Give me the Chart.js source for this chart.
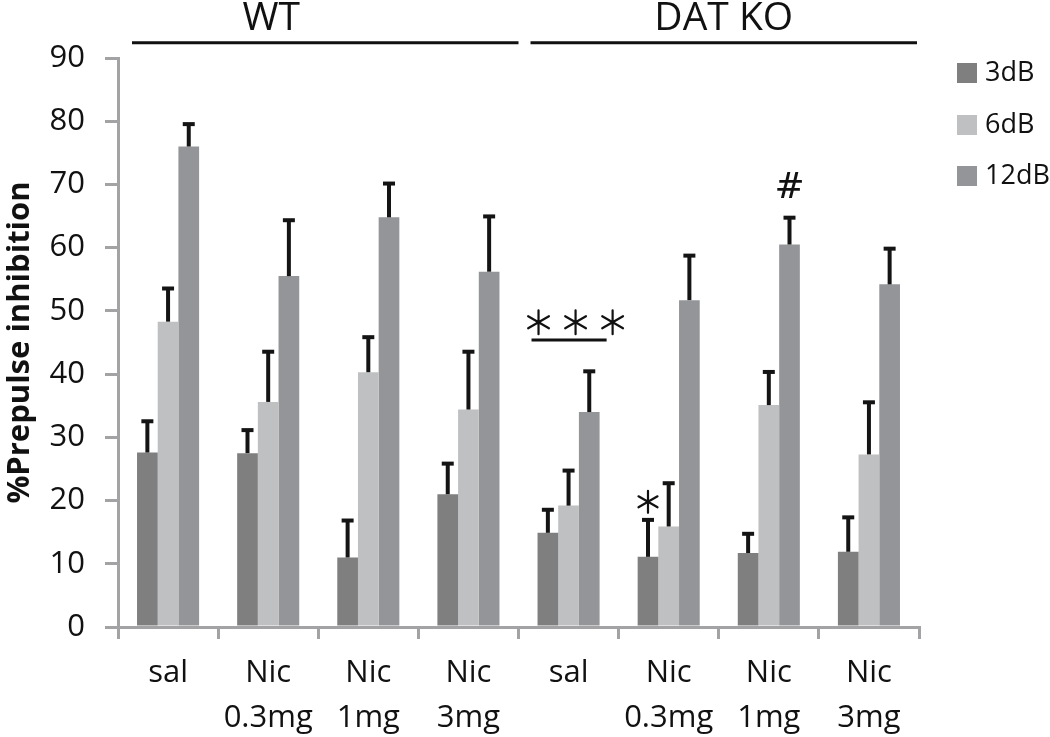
<!DOCTYPE html>
<html>
<head>
<meta charset="utf-8">
<script src="https://cdn.jsdelivr.net/npm/chart.js@4"></script>
<style>
  html, body { margin: 0; padding: 0; background: #fff; }
  #wrap { width: 1050px; height: 737px; position: relative; }
</style>
</head>
<body>
<div id="wrap"><canvas id="myChart"></canvas></div>
<script>
const categories = [['sal'], ['Nic', '0.3mg'], ['Nic', '1mg'], ['Nic', '3mg'],
                    ['sal'], ['Nic', '0.3mg'], ['Nic', '1mg'], ['Nic', '3mg']];
const seriesNames = ['3dB', '6dB', '12dB'];
const pp3dB  = [27.6, 27.5, 11.0, 21.0, 14.9, 11.1, 11.7, 11.9];
const pp6dB  = [48.3, 35.6, 40.3, 34.4, 19.2, 15.9, 35.1, 27.3];
const pp12dB = [76.0, 55.5, 64.8, 56.2, 34.0, 51.7, 60.5, 54.2];
const err3dB  = [5.1, 3.8, 6.0, 5.0, 3.8, 6.0, 3.2, 5.6];
const err6dB  = [5.4, 8.1, 5.7, 9.3, 5.7, 7.0, 5.4, 8.4];
const err12dB = [3.7, 9.0, 5.5, 8.9, 6.6, 7.2, 4.4, 5.8];
const yMin = 0, yMax = 90, yStep = 10;
const groupNames = ['WT', 'DAT KO'];

const colors = ['#7f7f80', '#bfc0c1', '#939598'];
const axisGrey = '#a3a3a5';
const FONT = "'Open Sans', sans-serif";

// thin 6-armed asterisk like the original figure
function drawStar(ctx, cx, cy, r) {
    ctx.save();
    ctx.lineWidth = 2.2;
    ctx.lineCap = 'round';
    ctx.beginPath();
    for (let k = 0; k < 3; k++) {
        const a = Math.PI / 2 + k * Math.PI / 3;
        ctx.moveTo(cx + r * Math.cos(a), cy + r * Math.sin(a));
        ctx.lineTo(cx - r * Math.cos(a), cy - r * Math.sin(a));
    }
    ctx.stroke();
    ctx.restore();
}

// error bars (upper only)
Chart.register({
    id: 'errorBars',
    afterDatasetsDraw: function(chart) {
        const ctx = chart.ctx;
        const yScale = chart.scales.y;
        const errs = [err3dB, err6dB, err12dB];
        ctx.save();
        ctx.strokeStyle = '#141414';
        ctx.lineWidth = 4;
        chart.data.datasets.forEach(function(ds, di) {
            const meta = chart.getDatasetMeta(di);
            meta.data.forEach(function(bar, i) {
                const yTop = yScale.getPixelForValue(ds.data[i] + errs[di][i]);
                ctx.beginPath();
                ctx.moveTo(bar.x, bar.y);
                ctx.lineTo(bar.x, yTop);
                ctx.stroke();
                ctx.beginPath();
                ctx.moveTo(bar.x - 6, yTop + 1);
                ctx.lineTo(bar.x + 6, yTop + 1);
                ctx.stroke();
            });
        });
        ctx.restore();
    }
});

// group lines, significance marks and legend
Chart.register({
    id: 'annotations',
    afterDraw: function(chart) {
        const ctx = chart.ctx;
        const x = chart.scales.x, y = chart.scales.y;
        ctx.save();
        ctx.fillStyle = '#111';
        ctx.strokeStyle = '#111';
        ctx.lineWidth = 3;

        // WT / DAT KO headers
        ctx.font = '39px ' + FONT;
        ctx.textAlign = 'center';
        ctx.textBaseline = 'middle';
        ctx.fillText(groupNames[0], x.getPixelForValue(1.03), 19);
        ctx.fillText(groupNames[1], x.getPixelForValue(5.55), 19);
        const lineY = y.getPixelForValue(92.4);
        ctx.beginPath();
        ctx.moveTo(x.getPixelForValue(-0.36), lineY);
        ctx.lineTo(x.getPixelForValue(3.5), lineY);
        ctx.moveTo(x.getPixelForValue(3.62), lineY);
        ctx.lineTo(x.getPixelForValue(7.48), lineY);
        ctx.stroke();

        // *** over DAT KO sal
        const starY = y.getPixelForValue(48.2);
        [-0.3, 0.07, 0.44].forEach(function(dx) {
            drawStar(ctx, x.getPixelForValue(4 + dx), starY, 12);
        });
        const underY = y.getPixelForValue(45.4);
        ctx.beginPath();
        ctx.moveTo(x.getPixelForValue(4 - 0.37), underY);
        ctx.lineTo(x.getPixelForValue(4 + 0.38), underY);
        ctx.stroke();

        // * over DAT KO Nic 0.3mg 3dB
        const m0 = chart.getDatasetMeta(0).data[5];
        drawStar(ctx, m0.x, y.getPixelForValue(19.8), 11);

        // # over DAT KO Nic 1mg 12dB
        const m2 = chart.getDatasetMeta(2).data[6];
        ctx.font = '36px DejaVu Serif';
        ctx.fillText('#', m2.x, y.getPixelForValue(69.4));

        // legend
        ctx.font = '27px ' + FONT;
        ctx.textAlign = 'left';
        const lx = chart.chartArea.right + 38;
        [73, 125, 176].forEach(function(ly, i) {
            ctx.fillStyle = colors[i];
            ctx.fillRect(lx, ly - 10, 20, 20);
            ctx.fillStyle = '#111';
            ctx.fillText(seriesNames[i], lx + 28, ly);
        });
        ctx.restore();
    }
});

const ctx = document.getElementById('myChart').getContext('2d');
const myChart = new Chart(ctx, {
    type: 'bar',
    data: {
        labels: categories,
        datasets: [
            { label: seriesNames[0], data: pp3dB, backgroundColor: colors[0] },
            { label: seriesNames[1], data: pp6dB, backgroundColor: colors[1] },
            { label: seriesNames[2], data: pp12dB, backgroundColor: colors[2] }
        ]
    },
    options: {
        responsive: true,
        maintainAspectRatio: false,
        animation: false,
        layout: { padding: { top: 58, right: 131, left: 0, bottom: 0 } },
        plugins: {
            legend: { display: false },
            tooltip: { enabled: false }
        },
        datasets: { bar: { barPercentage: 1, categoryPercentage: 0.62 } },
        scales: {
            x: {
                afterFit: function(s) { s.height = 110; },
                border: { color: axisGrey, width: 3 },
                grid: {
                    offset: true,
                    drawOnChartArea: false,
                    drawTicks: true,
                    tickLength: 12,
                    color: axisGrey,
                    lineWidth: 3
                },
                ticks: {
                    font: { size: 31, family: FONT, lineHeight: 1.45 },
                    color: '#111',
                    padding: 12,
                    maxRotation: 0
                }
            },
            y: {
                min: yMin,
                max: yMax,
                afterFit: function(s) { s.width = 118; },
                border: { color: axisGrey, width: 3 },
                grid: {
                    drawOnChartArea: false,
                    drawTicks: true,
                    tickLength: 13,
                    color: axisGrey,
                    lineWidth: 3
                },
                ticks: {
                    stepSize: yStep,
                    font: { size: 31, family: FONT },
                    color: '#111',
                    padding: 20
                },
                title: {
                    display: true,
                    text: '%Prepulse inhibition',
                    font: { size: 31, weight: 'bold', family: FONT },
                    color: '#111',
                    padding: { top: 2, bottom: 0 }
                }
            }
        }
    }
});
</script>
</body>
</html>
